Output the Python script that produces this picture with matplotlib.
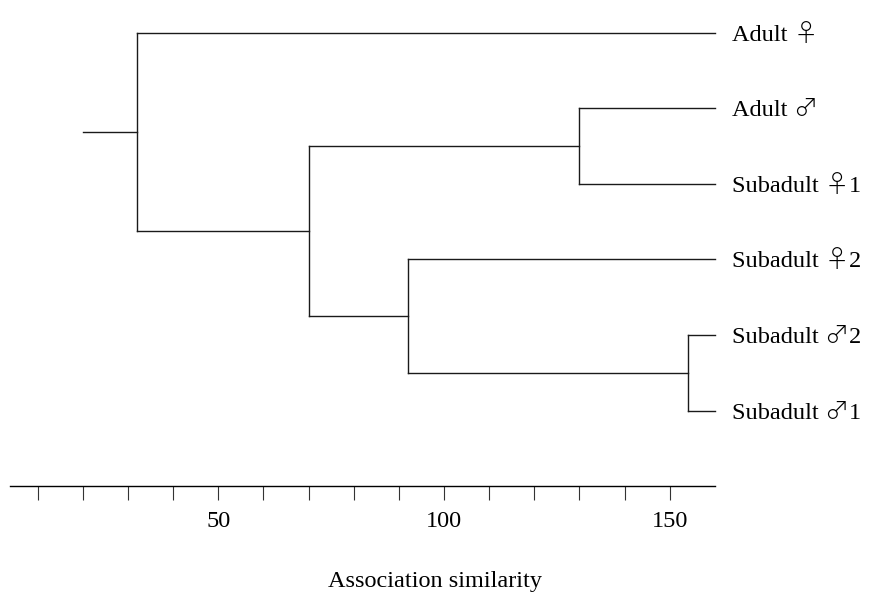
import matplotlib
matplotlib.use('Agg')
import matplotlib.pyplot as plt
from matplotlib.ticker import FixedLocator
from matplotlib.offsetbox import TextArea, HPacker, AnnotationBbox

plt.rcParams['font.family'] = ['Liberation Serif', 'DejaVu Sans']

# leaves, top to bottom
leaves = ['Adult \u2640', 'Adult \u2642', 'Subadult \u26401',
          'Subadult \u26402', 'Subadult \u26422', 'Subadult \u26421']

# clusters: (left, right, similarity); ints are leaf indices, strings other clusters
clusters = {
    'a': (1, 2, 130),
    'b': (4, 5, 154),
    'c': (3, 'b', 92),
    'd': ('a', 'c', 70),
    'root': (0, 'd', 32),
}
root_start = 20
leaf_end = 160
axis_min, axis_max = 3.85, 160

fs = 17.5
fig = plt.figure(figsize=(8.69, 5.98), dpi=100)
ax = fig.add_axes([0, 0.1873, 1, 0.8127])


def draw(node):
    # returns (x, y) of the node and draws its branches
    if isinstance(node, int):
        return leaf_end, node
    left, right, h = clusters[node]
    xl, yl = draw(left)
    xr, yr = draw(right)
    ax.plot([h, h], [yl, yr], color='#1a1a1a', lw=1)
    ax.plot([h, xl], [yl, yl], color='#1a1a1a', lw=1)
    ax.plot([h, xr], [yr, yr], color='#1a1a1a', lw=1)
    return h, (yl + yr) / 2


x0, y0 = draw('root')
ax.plot([root_start, x0], [y0, y0], color='#1a1a1a', lw=1)

serif = dict(family=['Liberation Serif'], size=fs, color='black')
sign = dict(family=['Noto Sans CJK JP'], size=fs, color='black', weight='light')

for i, name in enumerate(leaves):
    # the sex sign is set in a thinner face than the rest of the label
    k = max(name.find('\u2640'), name.find('\u2642'))
    parts = [TextArea(name[:k], textprops=serif),
             TextArea(name[k], textprops=sign)]
    if name[k + 1:]:
        parts.append(TextArea(name[k + 1:], textprops=serif))
    box = HPacker(children=parts, align='baseline', pad=0, sep=0)
    ab = AnnotationBbox(box, (leaf_end, i), xybox=(12, -1), xycoords='data',
                        boxcoords='offset points', box_alignment=(0, 0.5),
                        frameon=False, pad=0)
    ax.add_artist(ab)

ax.set_xlim(1.64, 194.15)
ax.set_ylim(5.996, -0.4325)

for s in ['top', 'right', 'left']:
    ax.spines[s].set_visible(False)
ax.spines['bottom'].set_bounds(axis_min, axis_max)
ax.spines['bottom'].set_linewidth(1)
ax.set_yticks([])

ax.xaxis.set_major_locator(FixedLocator([50, 100, 150]))
ax.xaxis.set_minor_locator(FixedLocator([v for v in range(10, 151, 10) if v % 50]))
ax.tick_params(axis='x', which='both', direction='out', length=10, width=0.8,
               color='#333333', labelsize=fs, pad=8)
ax.set_xlabel('Association similarity', fontsize=fs, labelpad=28)

fig.savefig('out.png', dpi=100)
